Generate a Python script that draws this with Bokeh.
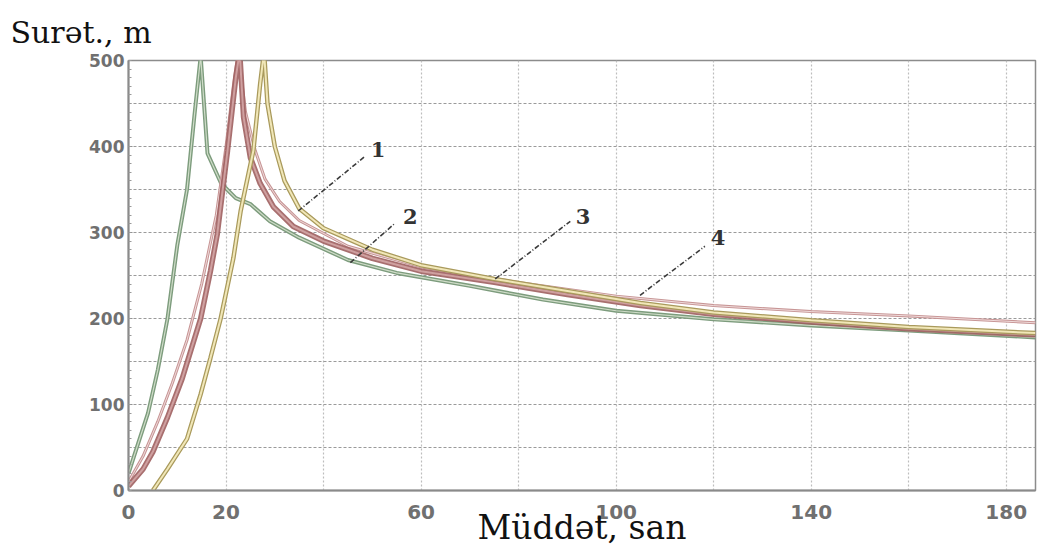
from bokeh.plotting import figure
from bokeh.models import FixedTicker, Range1d, Label
from bokeh.embed import file_html
from bokeh.resources import INLINE

# ---- data ----
green_x = [0, 2, 4, 6, 8, 10, 12, 13.5, 14.8, 16.2, 19, 22, 25, 29, 35, 45, 55, 70, 85, 100, 120, 140, 160, 186]
green_y = [20, 55, 90, 140, 200, 285, 350, 435, 505, 392, 357, 340, 333, 313, 294, 268, 253, 238, 222, 209, 199, 192, 186, 178]

pink_x = [0, 3, 6, 9, 12, 15, 18, 20, 21.5, 22.5, 24, 26, 28, 31, 35, 45, 60, 80, 100, 120, 140, 160, 186]
pink_y = [10, 40, 80, 125, 175, 240, 320, 400, 470, 510, 440, 395, 362, 336, 314, 284, 260, 242, 226, 215, 208, 203, 195]

maroon_x = [0, 3, 5, 8, 11, 14.8, 16.8, 18.2, 20.3, 22, 22.8, 23.6, 25, 27, 29.7, 33.8, 40, 50, 60, 75, 90, 105, 120, 140, 160, 186]
maroon_y = [5, 25, 45, 85, 130, 200, 255, 298, 395, 480, 510, 434, 387, 357, 330, 307, 290, 270, 255, 242, 228, 215, 205, 196, 188, 181]

olive_x = [5, 8, 12, 14.8, 16.8, 18.9, 21.5, 23, 25.6, 27, 27.8, 28.5, 30, 32, 35, 40, 50, 60, 75, 90, 105, 120, 140, 160, 186]
olive_y = [0, 25, 60, 112, 154, 200, 270, 325, 395, 473, 510, 450, 400, 360, 328, 305, 280, 262, 246, 232, 218, 207, 198, 190, 183]

x_tick_labels = [0, 20, 60, 100, 140, 180]
y_tick_labels = [0, 100, 200, 300, 400, 500]

curve_labels = ["1", "2", "3", "4"]
label_x = [51.2, 57.8, 93.2, 120.9]
label_y = [397, 319, 319, 294]
leader_x0 = [34.8, 45.5, 75.2, 104.9]
leader_y0 = [325, 265, 246, 227]
leader_x1 = [48.6, 54.7, 90.6, 118.2]
leader_y1 = [389, 311, 313, 284]

x_title = "Müddət, san"
y_title = "Surət., m"

# ---- figure ----
p = figure(width=1043, height=549, output_backend="svg", toolbar_location=None,
           x_range=Range1d(0, 186), y_range=Range1d(0, 500),
           min_border_left=128, min_border_right=8, min_border_top=60, min_border_bottom=59)
p.background_fill_color = "white"
p.outline_line_color = "#8c8c8c"
p.outline_line_width = 1.5

p.title.text = y_title
p.title.align = "left"
p.title.vertical_align = "top"
p.title.offset = -118
p.title.text_font = "DejaVu Serif"
p.title.text_font_style = "normal"
p.title.text_font_size = "30px"
p.title.text_color = "#111111"
p.title.standoff = 18

p.xaxis.axis_label = x_title
p.xaxis.axis_label_text_font = "DejaVu Serif"
p.xaxis.axis_label_text_font_style = "normal"
p.xaxis.axis_label_text_font_size = "33px"
p.xaxis.axis_label_text_color = "#111111"
p.xaxis.axis_label_standoff = -14

p.xaxis.ticker = FixedTicker(ticks=x_tick_labels)
p.yaxis.ticker = FixedTicker(ticks=y_tick_labels, minor_ticks=list(range(0, 501, 10)))
p.xgrid.ticker = FixedTicker(ticks=list(range(0, 187, 20)))
p.ygrid.ticker = FixedTicker(ticks=list(range(0, 501, 50)))
p.xgrid.grid_line_color = "#bdbdbd"
p.xgrid.grid_line_dash = "2 2"
p.ygrid.grid_line_color = "#9a9a9a"
p.ygrid.grid_line_dash = "3 2"
p.xgrid.grid_line_width = 1.2
p.ygrid.grid_line_width = 1.2

for ax in (p.xaxis, p.yaxis):
    ax.axis_line_color = "#8a8a8a"
    ax.axis_line_width = 2
    ax.major_label_text_font = "DejaVu Sans"
    ax.major_label_text_font_style = "bold"
    ax.major_label_text_color = "#707070"
p.yaxis.major_label_text_font_size = "17px"
p.xaxis.major_label_text_font_size = "20px"

p.xaxis.major_tick_line_color = None
p.xaxis.minor_tick_line_color = None
p.xaxis.major_label_standoff = 8
p.yaxis.major_tick_in = 4
p.yaxis.major_tick_out = 0
p.yaxis.minor_tick_in = 3
p.yaxis.minor_tick_out = 0
p.yaxis.major_tick_line_color = "#8a8a8a"
p.yaxis.minor_tick_line_color = "#9a9a9a"
p.yaxis.major_label_standoff = 4

# ---- curves ----
p.line(green_x, green_y, line_color="#7d9c7d", line_width=4)
p.line(green_x, green_y, line_color="#cfdcc8", line_width=1.2)
p.line(pink_x, pink_y, line_color="#c79595", line_width=3)
p.line(pink_x, pink_y, line_color="#efdada", line_width=1)
p.line(maroon_x, maroon_y, line_color="#9e5f5f", line_width=5.5, line_alpha=0.9)
p.line(maroon_x, maroon_y, line_color="#cfa0a0", line_width=2)
p.line(olive_x, olive_y, line_color="#a99a5c", line_width=4.5)
p.line(olive_x, olive_y, line_color="#f1e7b8", line_width=2)

# ---- leaders & labels ----
for i in range(len(curve_labels)):
    p.line([leader_x0[i], leader_x1[i]], [leader_y0[i], leader_y1[i]],
           line_color="#3c3c3c", line_width=1.6, line_dash="5 2 1 2")
    p.add_layout(Label(x=label_x[i], y=label_y[i], text=curve_labels[i],
                       text_font="DejaVu Serif", text_font_style="bold",
                       text_font_size="21px", text_color="#333333",
                       text_align="center", text_baseline="middle"))

open("out.html", "w").write(file_html(p, INLINE))
